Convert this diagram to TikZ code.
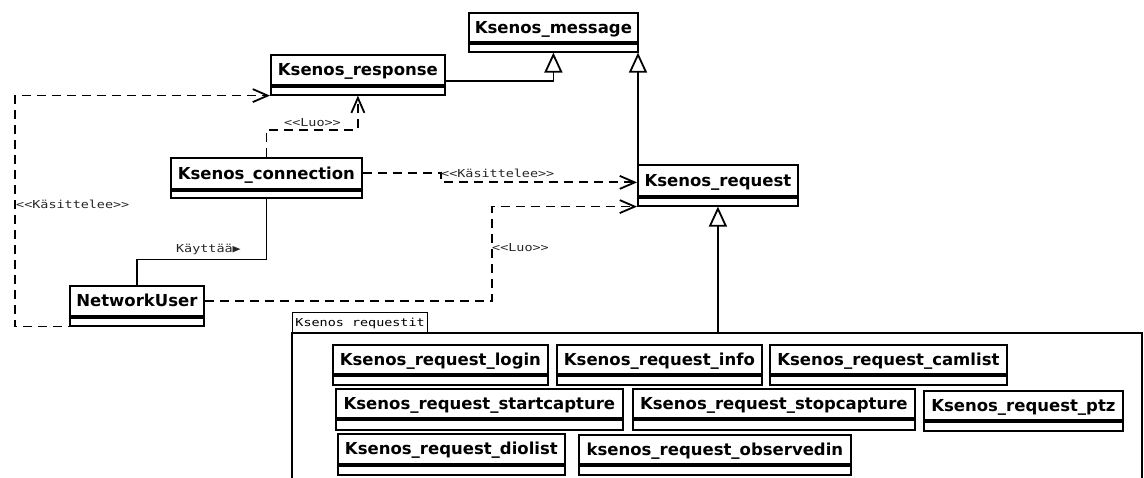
\documentclass[tikz,border=0pt]{standalone}
\usepackage{fontspec}
\usetikzlibrary{arrows.meta}
\newfontfamily\clsfont{DejaVu Sans}
\newfontfamily\lblfont{DejaVu Sans Mono}[FakeStretch=1.22]

\tikzset{
  cls/.style={draw, line width=1.8pt, anchor=north west, inner sep=0pt,
    text height=12pt, text depth=0pt,
    font=\clsfont\bfseries\fontsize{16.5}{18}\selectfont},
  compart/.style={draw, line width=1.8pt, anchor=north west, inner sep=0pt},
  gen/.style={line width=1.8pt, -{Triangle[open, length=20pt, width=18pt, line width=1.8pt]}},
  dep/.style={line width=1.8pt, dash pattern=on 9pt off 6pt,
    -{Straight Barb[length=15pt, width=13pt, line width=1.8pt]}},
  assoc/.style={line width=1.8pt},
  lbl/.style={font=\lblfont\fontsize{11}{13}\selectfont, text=black!85, inner sep=0pt},
  pkg/.style={line width=1.2pt},
}

% class box: name compartment plus an empty compartment below
% #1 id, #2 x1, #3 y1, #4 x2, #5 y of separator, #6 y2, #7 name
\newcommand{\umlbox}[7]{%
  \node[cls, minimum width={#4-#2}, minimum height={#5-#3}] (#1) at (#2,#3) {#7};
  \node[compart, minimum width={#4-#2}, minimum height={#6-#5}] (#1-c) at (#1.south west) {};
}

\begin{document}
\begin{tikzpicture}[x=1pt, y=-1pt]
\useasboundingbox (0,0) rectangle (1144,478);
\clip (0,0) rectangle (1144,478);

% classes
\umlbox{msg}{468}{12}{637}{41}{49}{Ksenos\_message}
\umlbox{resp}{270}{54}{444}{84}{92}{Ksenos\_response}
\umlbox{conn}{170}{157}{361}{188}{195}{Ksenos\_connection}
\umlbox{req}{637}{164}{797}{195}{203}{Ksenos\_request}
\umlbox{nu}{69}{285}{203}{315}{323}{NetworkUser}

% package with the request subclasses
\node[draw, pkg, anchor=north west, inner sep=0pt, minimum width=135, minimum height=21,
  font=\lblfont\fontsize{11}{13}\selectfont] (pkgtab) at (292,312) {Ksenos requestit};
\coordinate (pkgtop) at (292,333);
\coordinate (pkgright) at (1142,333);
\draw[pkg] (292,480) -- (pkgtop) -- (pkgright) -- (1142,480);

\umlbox{login}{332}{344}{547}{373}{382}{Ksenos\_request\_login}
\umlbox{info}{556}{344}{761}{373}{382}{Ksenos\_request\_info}
\umlbox{camlist}{769}{344}{1006}{373}{382}{Ksenos\_request\_camlist}
\umlbox{start}{335}{388}{622}{417}{427}{Ksenos\_request\_startcapture}
\umlbox{stop}{632}{388}{914}{417}{427}{Ksenos\_request\_stopcapture}
\umlbox{ptz}{923}{390}{1122}{419}{428}{Ksenos\_request\_ptz}
\umlbox{dio}{337}{433}{564}{463}{472}{Ksenos\_request\_diolist}
\umlbox{obs}{578}{434}{850}{463}{472}{ksenos\_request\_observedin}

% generalizations
\draw[gen] ([yshift=-11pt]resp.east) -| (msg-c.south);
\draw[gen] ([xshift=1pt]req.north west) -- ([xshift=1pt]req.north west |- msg-c.south);
\draw[gen] (pkgtop -| req-c.south) -- (req-c.south);

% dependencies
\draw[dep] (conn.north) -- ++(0,-27) -| (resp-c.south);
\node[lbl, anchor=west] (luo1) at (284,123) {<<Luo>>};

\draw[dep] (conn.east) -- ++(78,0) |- ([yshift=-2pt]req.west);
\node[lbl, anchor=west] (kas1) at (441,173) {<<Käsittelee>>};

\draw[dep] (nu.east) -- ++(287,0) |- (req-c.south west);
\node[lbl, anchor=west] (luo2) at (492,248) {<<Luo>>};

\draw[dep] (nu-c.south) -- ++(-122,0) |- (resp-c.south west);
\node[lbl, anchor=west] (kas2) at (16,204) {<<Käsittelee>>};

% association
\draw[assoc] (conn-c.south) -- ++(0,61) -| (nu.north);
\node[lbl, anchor=east] (kay) at (241,249) {Käyttää▶};
\end{tikzpicture}
\end{document}
